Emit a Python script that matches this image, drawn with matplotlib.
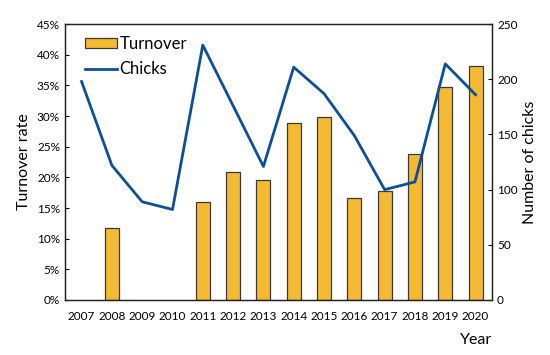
import matplotlib
matplotlib.use("Agg")
import matplotlib.pyplot as plt
from matplotlib.ticker import PercentFormatter

plt.rcParams['font.family'] = ['Lato', 'DejaVu Sans']

years = ['2007', '2008', '2009', '2010', '2011', '2012', '2013', '2014',
         '2015', '2016', '2017', '2018', '2019', '2020']
turnover = [0, 11.7, 0, 0, 16.0, 20.9, 19.5, 28.9, 29.8, 16.6, 17.8, 23.8, 34.8, 38.2]
chicks = [198, 122, 89, 82, 231, 176, 121, 211, 187, 149, 100, 107, 214, 186]

fig = plt.figure(figsize=(5.5, 3.55), dpi=100)
ax = fig.add_axes([0.118, 0.155, 0.777, 0.777])
x = list(range(len(years)))
bx = [i for i, v in zip(x, turnover) if v > 0]
bv = [v for v in turnover if v > 0]
bars = ax.bar(bx, bv, width=0.46, color='#F4BA33', edgecolor='#3a3a3a',
              linewidth=0.9, label='Turnover', zorder=2)
ax.set_ylim(0, 45)
ax.set_xlim(-0.55, 13.55)
ax.set_yticks(range(0, 46, 5))
ax.yaxis.set_major_formatter(PercentFormatter(decimals=0))
ax.set_xticks(x)
ax.set_xticklabels(years)
ax.tick_params(axis='x', length=0, labelsize=8.5, pad=8)
ax.tick_params(axis='y', direction='in', length=3, labelsize=8.5)
ax.set_ylabel('Turnover rate', fontsize=11.5)
ax.set_xlabel('Year', fontsize=11.5)
ax.xaxis.set_label_coords(1.0, -0.12)
ax.xaxis.label.set_horizontalalignment('right')
for s in ax.spines.values():
    s.set_color('#222222')
    s.set_linewidth(0.9)

ax2 = ax.twinx()
line, = ax2.plot(x, chicks, color='#0D4F96', linewidth=2, label='Chicks', zorder=3)
ax2.set_ylim(0, 250)
ax2.set_yticks(range(0, 251, 50))
ax2.tick_params(axis='y', direction='in', length=3, labelsize=8.5)
ax2.set_ylabel('Number of chicks', fontsize=11.5)
for s in ax2.spines.values():
    s.set_color('#222222')
    s.set_linewidth(0.9)

ax.legend([bars, line], ['Turnover', 'Chicks'], loc='upper left', frameon=False,
          fontsize=12, handlelength=1.9, handleheight=0.5, handletextpad=0.15,
          borderaxespad=0.4, labelspacing=0.55, borderpad=0.3,
          bbox_to_anchor=(0.02, 1.0))

fig.savefig('out.png', dpi=100)
